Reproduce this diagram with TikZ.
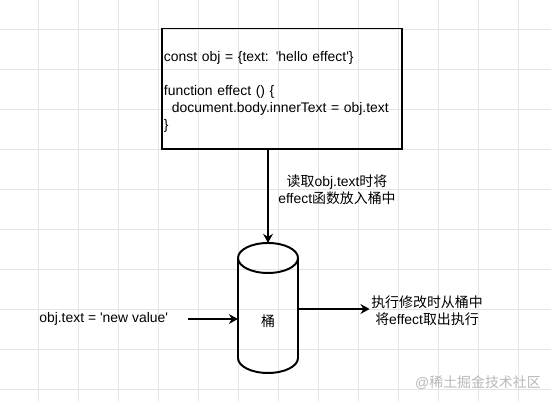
\documentclass[tikz,border=0pt]{standalone}
\usepackage{fontspec}
\newfontfamily\drawfont{Liberation Sans}
\newfontfamily\cjk{Noto Sans CJK SC}
\usetikzlibrary{arrows.meta,positioning}
\definecolor{GridLine}{HTML}{E4E4E4}
\definecolor{MarkGray}{HTML}{B8B8B8}

\begin{document}
\begin{tikzpicture}[x=0.025cm, y=-0.025cm,
  every node/.style={font=\drawfont\fontsize{9.9}{12.1}\selectfont},
  codebox/.style={draw, line width=1.4pt, minimum width=6cm, minimum height=3cm,
                  text width=5.9cm, inner xsep=0.05cm, align=left},
  bucket/.style={minimum width=1.5cm, minimum height=3.25cm, inner sep=0pt, outer sep=0pt},
  outline/.style={line width=1.4pt},
  note/.style={align=center, inner sep=1pt},
  link/.style={-{Stealth[length=6.5pt, width=7pt]}, line width=1.4pt}
]
\useasboundingbox (0,0) rectangle (551,401);
\fill[white] (0,0) rectangle (551,401);
\foreach \gx in {-2,38,...,518} \draw[GridLine, line width=0.5pt] (\gx,0) -- (\gx,401);
\foreach \gy in {29,69,...,389} \draw[GridLine, line width=0.5pt] (0,\gy) -- (551,\gy);

\node[codebox] (code) at (282,88.5)
  {\rule{0pt}{12.5pt}const obj = \{text: 'hello effect'\}\\
   \mbox{}\\
   function effect () \{\\
   \hspace*{0.2cm}document.body.innerText = obj.text\\
   \}};
% bucket: cylinder drawn on a plain node
\node[bucket] (bucket) at (268,308) {};
\draw[outline] (bucket.north) ++(0,15) ellipse [x radius=30, y radius=15];
\draw[outline] (bucket.north west) ++(0,15) -- ++(0,100)
  arc[start angle=180, end angle=0, x radius=30, y radius=15] -- ++(0,-100);
\node[inner sep=0pt] (bucketname) at (268,321) {\cjk 桶};
\node[note] (readnote) at (337,190)
  {{\cjk 读取}obj.text{\cjk 时将}\\effect{\cjk 函数放入桶中}};
\node[anchor=west, inner sep=0pt] (newvalue) at (39,319) {obj.text = 'new value'};
\node[note] (runnote) at (427,310.5)
  {{\cjk 执行修改时从桶中}\\{\cjk 将}effect{\cjk 取出执行}};
\node[anchor=east, text=MarkGray, inner sep=0pt] (mark) at (541,383) {@{\cjk 稀土掘金技术社区}};

\coordinate (setter) at (188,319);
\coordinate (runner) at (298,309);
\draw[link] (code.south -| bucket.north) -- (bucket.north);
\draw[link] (setter) -- (bucket.west |- setter);
\draw[link] (runner) -- (runnote.west |- runner);
\end{tikzpicture}
\end{document}
